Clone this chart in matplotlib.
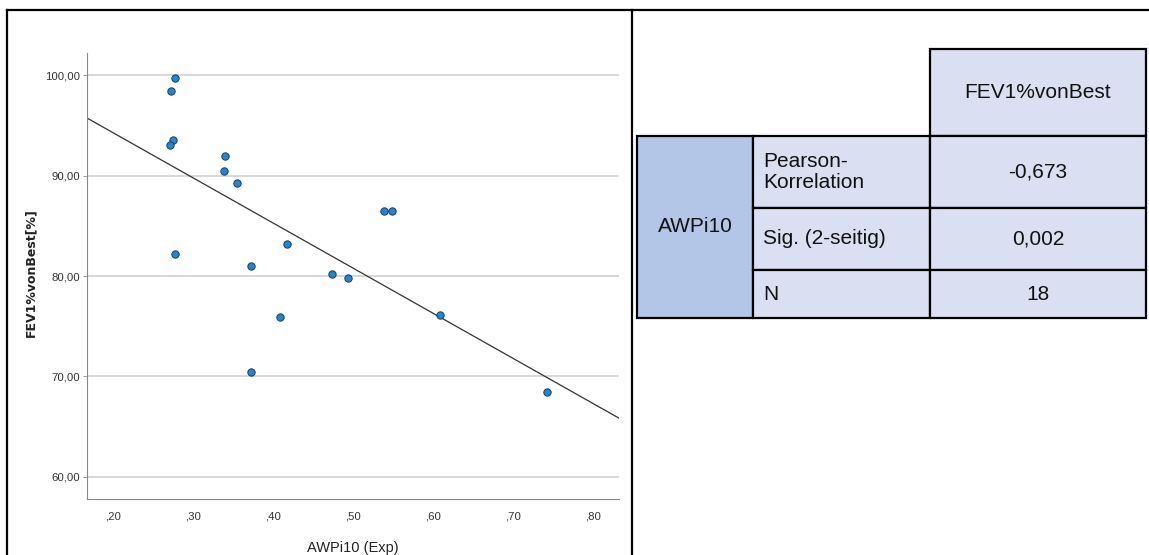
import matplotlib
matplotlib.use('Agg')
import matplotlib.pyplot as plt
from matplotlib.patches import Rectangle
import numpy as np

# scatter data
awpi10 = [0.278, 0.272, 0.275, 0.271, 0.340, 0.339, 0.355, 0.278, 0.418,
          0.373, 0.409, 0.372, 0.539, 0.549, 0.474, 0.494, 0.609, 0.743]
fev1 = [99.7, 98.4, 93.5, 93.0, 91.9, 90.5, 89.3, 82.2, 83.2,
        81.0, 75.9, 70.4, 86.5, 86.5, 80.2, 79.8, 76.1, 68.5]

x_ticks = [0.2, 0.3, 0.4, 0.5, 0.6, 0.7, 0.8]
x_ticklabels = [',20', ',30', ',40', ',50', ',60', ',70', ',80']
y_ticks = [60, 70, 80, 90, 100]
y_ticklabels = ['60,00', '70,00', '80,00', '90,00', '100,00']

# correlation table
col_header = 'FEV1%vonBest'
row_group = 'AWPi10'
row_labels = ['Pearson-\nKorrelation', 'Sig. (2-seitig)', 'N']
row_values = ['-0,673', '0,002', '18']

ARIAL = ['Liberation Sans', 'DejaVu Sans']

W, H = 1149, 555
fig = plt.figure(figsize=(W / 100, H / 100), dpi=100)

# ---- scatter plot ----
ax = fig.add_axes([87 / W, 1 - 499 / H, (619 - 87) / W, (499 - 53) / H])
ax.set_xlim(0.1675, 0.8325)
ax.set_ylim(57.8, 102.2)
for y in y_ticks:
  ax.axhline(y, color='#d6d6d6', linewidth=1.3, zorder=0)

xs = np.array(awpi10)
ys = np.array(fev1)
slope, intercept = np.polyfit(xs, ys, 1)
xl = np.array(ax.get_xlim())
ax.plot(xl, slope * xl + intercept, color='#333333', linewidth=0.9, zorder=2)

ax.scatter(xs, ys, s=28, facecolor='#1f86d8', edgecolor='#203a55',
           linewidth=0.7, zorder=3)

ax.set_xticks(x_ticks, x_ticklabels, family=ARIAL, fontsize=8.2, color='#333333')
ax.set_yticks(y_ticks, y_ticklabels, family=ARIAL, fontsize=8.2, color='#333333')
ax.tick_params(axis='x', length=0, pad=9)
ax.tick_params(axis='y', length=3, width=0.6, color='#888888', pad=2)
for side in ['top', 'right']:
  ax.spines[side].set_visible(False)
for side in ['left', 'bottom']:
  ax.spines[side].set_color('#888888')
  ax.spines[side].set_linewidth(0.8)

ax.set_xlabel('AWPi10 (Exp)', family=ARIAL, fontsize=10.5, color='#222222')
ax.xaxis.set_label_coords(0.5, -0.095)
ax.set_ylabel('FEV1%vonBest[%]', family=['DejaVu Sans'], fontsize=9,
              fontweight='bold', color='#222222')
ax.yaxis.set_label_coords(-0.094, 0.508)

# ---- frame + table overlay in pixel coordinates ----
ov = fig.add_axes([0, 0, 1, 1], zorder=-1)
ov.set_xlim(0, W)
ov.set_ylim(H, 0)
ov.axis('off')
ov.plot([7, 7], [10, H], color='black', linewidth=1.6)
ov.plot([7, W], [10, 10], color='black', linewidth=1.6)
ov.plot([632, 632], [10, H], color='black', linewidth=1.6)

tb = fig.add_axes([0, 0, 1, 1], zorder=5)
tb.set_xlim(0, W)
tb.set_ylim(H, 0)
tb.axis('off')
tb.patch.set_alpha(0)

light = '#dae0f2'
dark = '#b4c6e7'
cx = [637, 753, 930, 1146]
ry = [49, 136, 208, 270, 318]
cell_kw = dict(edgecolor='black', linewidth=1.6)

tb.add_patch(Rectangle((cx[2], ry[0]), cx[3] - cx[2], ry[1] - ry[0], facecolor=light, **cell_kw))
tb.text((cx[2] + cx[3]) / 2, (ry[0] + ry[1]) / 2, col_header, family=ARIAL,
        fontsize=15, ha='center', va='center', color='#111111')
tb.add_patch(Rectangle((cx[0], ry[1]), cx[1] - cx[0], ry[4] - ry[1], facecolor=dark, **cell_kw))
tb.text((cx[0] + cx[1]) / 2, (ry[1] + ry[4]) / 2, row_group, family=ARIAL,
        fontsize=15, ha='center', va='center', color='#111111')
for i, (lab, val) in enumerate(zip(row_labels, row_values)):
  y0, y1 = ry[i + 1], ry[i + 2]
  tb.add_patch(Rectangle((cx[1], y0), cx[2] - cx[1], y1 - y0, facecolor=light, **cell_kw))
  tb.add_patch(Rectangle((cx[2], y0), cx[3] - cx[2], y1 - y0, facecolor=light, **cell_kw))
  tb.text(cx[1] + 10, (y0 + y1) / 2, lab, family=ARIAL, fontsize=15,
          ha='left', va='center', linespacing=1.15, color='#111111')
  tb.text((cx[2] + cx[3]) / 2, (y0 + y1) / 2, val, family=ARIAL, fontsize=15,
          ha='center', va='center', color='#111111')

fig.savefig('out.png', dpi=100, facecolor='white')
